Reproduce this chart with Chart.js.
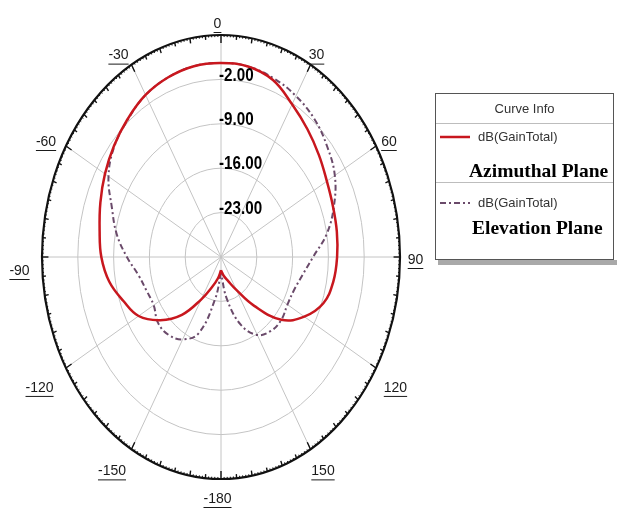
<!DOCTYPE html>
<html lang="en">
<head>
    <meta charset="UTF-8">
    <title>Radiation pattern - dB(GainTotal)</title>
    <script src="https://cdn.jsdelivr.net/npm/chart.js"></script>
    <style>
        body {
            margin: 0;
            padding: 0;
            background-color: #fff;
        }
        .chart-container {
            position: relative;
            width: 617px;
            height: 509px;
        }
    </style>
</head>
<body>
    <div class="chart-container">
        <canvas id="polarChart"></canvas>
    </div>

    <script>
        // angles in degrees, clockwise from the top (0)
        const angles = [-180, -170, -160, -150, -140, -130, -120, -110, -100, -90, -80, -70, -60, -50, -40, -30, -20, -10,
            0, 10, 20, 30, 40, 50, 60, 70, 80, 90, 100, 110, 120, 130, 140, 150, 160, 170, 180];

        // dB(GainTotal), azimuthal plane (red solid)
        const azimuthal = [-27.9, -26.6, -25.0, -22.3, -18.1, -14.5, -11.4, -9.7, -7.8, -6.6, -5.9, -4.9, -3.8, -2.7, -1.6, -0.5, 0.15, 0.55,
            0.6, 0.5, -0.3, -2.2, -3.7, -5.0, -6.1, -6.7, -7.0, -7.3, -7.7, -8.7, -11.2, -14.6, -20.0, -24.0, -26.0, -27.0, -27.9];

        // dB(GainTotal), elevation plane (purple dash-dot)
        const elevation = [-27.5, -23.2, -17.2, -15.0, -14.0, -13.9, -14.8, -14.5, -13.6, -11.6, -9.3, -7.3, -4.6, -2.8, -1.7, -0.5, 0.15, 0.55,
            0.6, 0.5, 0.0, -0.7, -1.6, -2.9, -4.3, -6.5, -9.0, -12.0, -13.8, -14.8, -15.0, -14.6, -14.8, -15.8, -18.6, -23.2, -27.5];

        const ringValues = [-2, -9, -16, -23];
        const ringLabels = ['-2.00', '-9.00', '-16.00', '-23.00'];
        const spokeAngles = [0, 30, 60, 90, 120, 150, 180, 210, 240, 270, 300, 330];
        const spokeLabels = ['0', '30', '60', '90', '120', '150', '-180', '-150', '-120', '-90', '-60', '-30'];
        const rMin = -30;
        const rMax = 5;

        function toXY(values) {
            return values.map((v, i) => {
                const r = (v - rMin) / (rMax - rMin);
                const t = angles[i] * Math.PI / 180;
                return { x: r * Math.sin(t), y: r * Math.cos(t) };
            });
        }

        // polar grid, tick marks, labels and curve info box
        const polarGrid = {
            id: 'polarGrid',
            beforeDatasetsDraw(chart) {
                const ctx = chart.ctx;
                const xs = chart.scales.x, ys = chart.scales.y;
                const cx = xs.getPixelForValue(0), cy = ys.getPixelForValue(0);
                const rx = xs.getPixelForValue(1) - cx, ry = cy - ys.getPixelForValue(1);
                ctx.save();
                ctx.strokeStyle = '#c4c4c4';
                ctx.lineWidth = 1;
                ringValues.forEach(v => {
                    const k = (v - rMin) / (rMax - rMin);
                    ctx.beginPath();
                    ctx.ellipse(cx, cy, rx * k, ry * k, 0, 0, Math.PI * 2);
                    ctx.stroke();
                });
                spokeAngles.forEach(a => {
                    const t = a * Math.PI / 180;
                    ctx.beginPath();
                    ctx.moveTo(cx, cy);
                    ctx.lineTo(cx + rx * Math.sin(t), cy - ry * Math.cos(t));
                    ctx.stroke();
                });
                // outer ellipse with inward ticks
                ctx.strokeStyle = '#111';
                ctx.lineWidth = 2.2;
                ctx.beginPath();
                ctx.ellipse(cx, cy, rx, ry, 0, 0, Math.PI * 2);
                ctx.stroke();
                ctx.lineWidth = 1.4;
                for (let a = 0; a < 360; a += 5) {
                    const t = a * Math.PI / 180;
                    const len = a % 30 === 0 ? 8 : (a % 10 === 0 ? 5 : 4);
                    const k = 1 - len / ry;
                    ctx.beginPath();
                    ctx.moveTo(cx + rx * Math.sin(t), cy - ry * Math.cos(t));
                    ctx.lineTo(cx + rx * k * Math.sin(t), cy - ry * k * Math.cos(t));
                    ctx.stroke();
                }
                ctx.lineWidth = 1;
                for (let a = 0; a < 360; a += 1) {
                    if (a % 5 === 0) continue;
                    const t = a * Math.PI / 180;
                    const k = 1 - 2 / ry;
                    ctx.beginPath();
                    ctx.moveTo(cx + rx * Math.sin(t), cy - ry * Math.cos(t));
                    ctx.lineTo(cx + rx * k * Math.sin(t), cy - ry * k * Math.cos(t));
                    ctx.stroke();
                }
                ctx.restore();
            },
            afterDraw(chart) {
                const ctx = chart.ctx;
                const xs = chart.scales.x, ys = chart.scales.y;
                const cx = xs.getPixelForValue(0), cy = ys.getPixelForValue(0);
                const rx = xs.getPixelForValue(1) - cx, ry = cy - ys.getPixelForValue(1);
                ctx.save();

                // ring labels, condensed bold
                ctx.fillStyle = '#000';
                ctx.font = 'bold 19px "Liberation Sans", Arial, sans-serif';
                ctx.textAlign = 'left';
                ctx.textBaseline = 'middle';
                ringValues.forEach((v, i) => {
                    const k = (v - rMin) / (rMax - rMin);
                    ctx.save();
                    ctx.translate(cx - 2, cy - ry * k - 4);
                    ctx.scale(0.8, 1);
                    ctx.fillText(ringLabels[i], 0, 0);
                    ctx.restore();
                });

                // angle labels, underlined
                ctx.font = '14px "Liberation Sans", Arial, sans-serif';
                ctx.fillStyle = '#1a1a1a';
                ctx.strokeStyle = '#1a1a1a';
                ctx.lineWidth = 1;
                ctx.textAlign = 'center';
                spokeAngles.forEach((a, i) => {
                    const t = a * Math.PI / 180;
                    const c = Math.cos(t), s = Math.sin(t);
                    const lx = cx - 3.5 + (rx + 19) * s + (c < 0 ? s * (-c) * 15 : 0);
                    const ly = cy - (ry + 14) * c + 3 + (c < 0 ? 8 * Math.abs(s) + 3 : 0);
                    ctx.fillText(spokeLabels[i], lx, ly);
                    const w = ctx.measureText(spokeLabels[i]).width;
                    ctx.beginPath();
                    ctx.moveTo(lx - w / 2, ly + 8.5);
                    ctx.lineTo(lx + w / 2, ly + 8.5);
                    ctx.stroke();
                });

                // curve info box
                const bx = 435, by = 93, bw = 179, bh = 167;
                ctx.fillStyle = '#a9a9a9';
                ctx.fillRect(bx + 3, by + bh, bw, 5);
                ctx.fillStyle = '#fff';
                ctx.fillRect(bx, by, bw, bh);
                ctx.strokeStyle = '#555';
                ctx.strokeRect(bx + 0.5, by + 0.5, bw - 1, bh - 1);
                ctx.strokeStyle = '#bdbdbd';
                ctx.beginPath();
                ctx.moveTo(bx + 1, 123.5); ctx.lineTo(bx + bw - 1, 123.5);
                ctx.moveTo(bx + 1, 182.5); ctx.lineTo(bx + bw - 1, 182.5);
                ctx.stroke();

                ctx.fillStyle = '#333';
                ctx.font = '13px "Liberation Sans", Arial, sans-serif';
                ctx.textAlign = 'center';
                ctx.fillText('Curve Info', bx + bw / 2, 109);
                ctx.textAlign = 'left';
                ctx.fillText('dB(GainTotal)', 478, 137);
                ctx.fillText('dB(GainTotal)', 478, 203);

                ctx.lineWidth = 2.5;
                ctx.strokeStyle = '#c8171e';
                ctx.beginPath();
                ctx.moveTo(440, 137); ctx.lineTo(470, 137);
                ctx.stroke();
                ctx.lineWidth = 2;
                ctx.strokeStyle = '#6a4a6a';
                ctx.setLineDash([6, 3, 2, 3]);
                ctx.beginPath();
                ctx.moveTo(440, 203); ctx.lineTo(470, 203);
                ctx.stroke();
                ctx.setLineDash([]);

                ctx.fillStyle = '#000';
                ctx.font = 'bold 19.5px "Liberation Serif", "Times New Roman", serif';
                ctx.fillText('Azimuthal Plane', 469, 172);
                ctx.fillText('Elevation Plane', 472, 229);
                ctx.restore();
            }
        };

        const ctx = document.getElementById('polarChart').getContext('2d');
        new Chart(ctx, {
            type: 'scatter',
            data: {
                datasets: [{
                    label: 'dB(GainTotal) Azimuthal Plane',
                    data: toXY(azimuthal),
                    showLine: true,
                    borderColor: '#c8171e',
                    borderWidth: 2.5,
                    pointRadius: 0,
                    tension: 0.4,
                    fill: false
                }, {
                    label: 'dB(GainTotal) Elevation Plane',
                    data: toXY(elevation),
                    showLine: true,
                    borderColor: '#6a4a6a',
                    borderWidth: 2,
                    borderDash: [6, 3, 2, 3],
                    pointRadius: 0,
                    tension: 0.4,
                    fill: false
                }]
            },
            options: {
                responsive: true,
                maintainAspectRatio: false,
                animation: false,
                layout: {
                    padding: { left: 42, right: 217, top: 35, bottom: 30 }
                },
                scales: {
                    x: { type: 'linear', min: -1, max: 1, display: false },
                    y: { type: 'linear', min: -1, max: 1, display: false }
                },
                plugins: {
                    legend: { display: false },
                    tooltip: { enabled: false }
                }
            },
            plugins: [polarGrid]
        });
    </script>
</body>
</html>
